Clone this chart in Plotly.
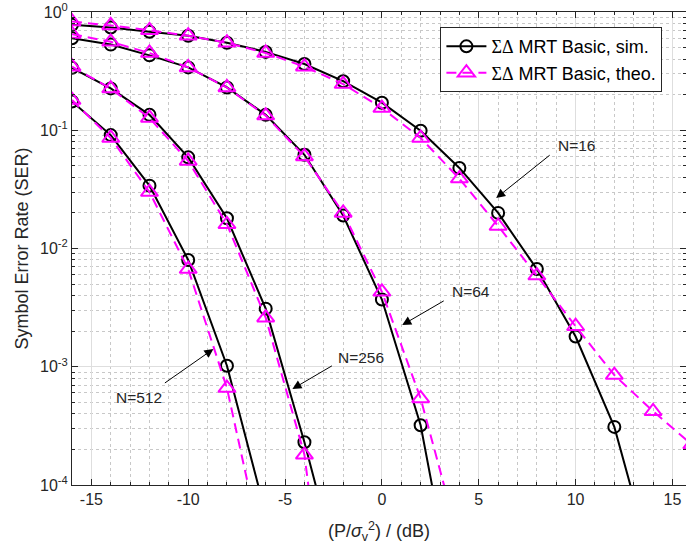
import plotly.graph_objects as go

# ---- data ----
snr_db = [-16, -14, -12, -10, -8, -6, -4, -2, 0, 2, 4, 6, 8, 10, 12, 14, 16]

ser_sim_N16 = [0.78, 0.74, 0.68, 0.63, 0.55, 0.46, 0.363, 0.26, 0.171, 0.099, 0.048,
               0.020, 0.0067, 0.0018, 3.1e-4, 2e-5, None]
ser_theo_N16 = [0.83, 0.77, 0.70, 0.63, 0.55, 0.45, 0.345, 0.246, 0.154, 0.086, 0.039,
                0.0155, 0.0059, 0.0022, 8.5e-4, 4.2e-4, 2.2e-4]

ser_sim_N64 = [0.60, 0.53, 0.43, 0.34, 0.23, 0.135, 0.062, 0.019, 0.0037, 3.2e-4, 6e-6,
               None, None, None, None, None, None]
ser_theo_N64 = [0.65, 0.56, 0.45, 0.34, 0.23, 0.133, 0.060, 0.020, 0.0043, 5.4e-4, 3.3e-5,
                None, None, None, None, None, None]

ser_sim_N256 = [0.337, 0.226, 0.135, 0.059, 0.018, 0.0031, 2.3e-4, 1.3e-5,
                None, None, None, None, None, None, None, None, None]
ser_theo_N256 = [0.345, 0.225, 0.127, 0.055, 0.016, 0.0026, 1.8e-4, 5e-7,
                 None, None, None, None, None, None, None, None, None]

ser_sim_N512 = [0.175, 0.091, 0.034, 0.008, 0.00102, 5.7e-5,
                None, None, None, None, None, None, None, None, None, None, None]
ser_theo_N512 = [0.18, 0.086, 0.030, 0.0067, 6.6e-4, 2.1e-5,
                 None, None, None, None, None, None, None, None, None, None, None]

x_tickvals = [-15, -10, -5, 0, 5, 10, 15]
x_ticktext = ["-15", "-10", "-5", "0", "5", "10", "15"]
y_tickvals = [1e-4, 1e-3, 1e-2, 1e-1, 1]
y_ticktext = ["10<sup>-4</sup>", "10<sup>-3</sup>", "10<sup>-2</sup>", "10<sup>-1</sup>", "10<sup>0</sup>"]

legend_sim = "<span style='font-family:Liberation Serif'>ΣΔ</span> MRT Basic, sim."
legend_theo = "<span style='font-family:Liberation Serif'>ΣΔ</span> MRT Basic, theo."

# annotation labels: (text, head_x, head_logy, ax, ay, text_x, text_logy)
labels = [
    ("N=16", 5.90, -1.573, 55, -44, 10.08, -1.125),
    ("N=64", 1.05, -2.647, 43, -25, 4.61, -2.36),
    ("N=256", -4.62, -3.188, 41, -24, -1.06, -2.918),
    ("N=512", -8.70, -2.85, -50, 35, -12.52, -3.264),
]

sims = [ser_sim_N16, ser_sim_N64, ser_sim_N256, ser_sim_N512]
theos = [ser_theo_N16, ser_theo_N64, ser_theo_N256, ser_theo_N512]

fig = go.Figure()
for i, s in enumerate(sims):
    fig.add_trace(go.Scatter(
        x=snr_db, y=s, mode="lines+markers", name=legend_sim,
        showlegend=(i == 0), legendgroup="sim", connectgaps=False,
        line=dict(color="black", width=2),
        marker=dict(symbol="circle-open", size=12, color="black", line=dict(width=2, color="black")),
    ))
for i, t in enumerate(theos):
    fig.add_trace(go.Scatter(
        x=snr_db, y=t, mode="lines+markers", name=legend_theo,
        showlegend=(i == 0), legendgroup="theo", connectgaps=False,
        line=dict(color="#FF00FF", width=2, dash="10px,6px"),
        marker=dict(symbol="triangle-up-open", size=15, color="#FF00FF", line=dict(width=2, color="#FF00FF")),
    ))

annots = []
for txt, hx, hy, ax, ay, tx, ty in labels:
    annots.append(dict(x=hx, y=hy, xref="x", yref="y", text="", showarrow=True,
                       ax=ax, ay=ay, arrowhead=2, arrowsize=1.8, arrowwidth=1,
                       arrowcolor="black"))
    annots.append(dict(x=tx, y=ty, xref="x", yref="y", text=txt, showarrow=False,
                       font=dict(family="Liberation Sans, Arial", size=15.5, color="#262626"),
                       xanchor="center", yanchor="middle"))

minor_y = [m * 10 ** e for e in range(-4, 0) for m in range(2, 10)]

axis_common = dict(
    showline=True, linecolor="#262626", linewidth=1, mirror="ticks",
    ticks="inside", ticklen=6, tickcolor="#262626",
    showgrid=True, gridcolor="#dedede", gridwidth=1,
    zeroline=False, automargin=False, ticklabeloverflow="allow",
    tickfont=dict(family="Liberation Sans, Arial", size=16, color="#262626"),
)

fig.update_layout(
    width=686, height=544,
    margin=dict(l=72, r=0, t=12, b=59),
    paper_bgcolor="white", plot_bgcolor="white",
    font=dict(family="Liberation Sans, Arial", color="#262626"),
    xaxis=dict(
        range=[-16, 15.7], tickmode="array", tickvals=x_tickvals, ticktext=x_ticktext,
        minor=dict(dtick=1, tick0=0, ticks="inside", ticklen=3, tickcolor="#262626",
                   showgrid=True, gridcolor="#c8c8c8", griddash="dot", gridwidth=1),
        title=dict(text="(P/<i>σ</i><sub>v</sub><sup>2</sup>) / (dB)",
                   font=dict(size=18, color="#262626"), standoff=18),
        **axis_common,
    ),
    yaxis=dict(
        type="log", range=[-4, 0], tickmode="array", tickvals=y_tickvals, ticktext=y_ticktext,
        minor=dict(tickmode="array", tickvals=minor_y, ticks="inside", ticklen=3, tickcolor="#262626",
                   showgrid=True, gridcolor="#c8c8c8", griddash="dot", gridwidth=1),
        title=dict(text="Symbol Error Rate (SER)", font=dict(size=18, color="#262626"), standoff=6),
        **axis_common,
    ),
    legend=dict(
        x=0.6, y=0.968, xanchor="left", yanchor="top",
        bgcolor="white", bordercolor="#262626", borderwidth=1,
        font=dict(family="Liberation Sans, Arial", size=18, color="black"),
        itemwidth=40, tracegroupgap=0,
    ),
    annotations=annots,
    showlegend=True,
)

# remove the default page margin so the figure fills the window exactly
fig.write_html("out.html", config={"displayModeBar": False},
               post_script="document.body.style.margin='0';")
